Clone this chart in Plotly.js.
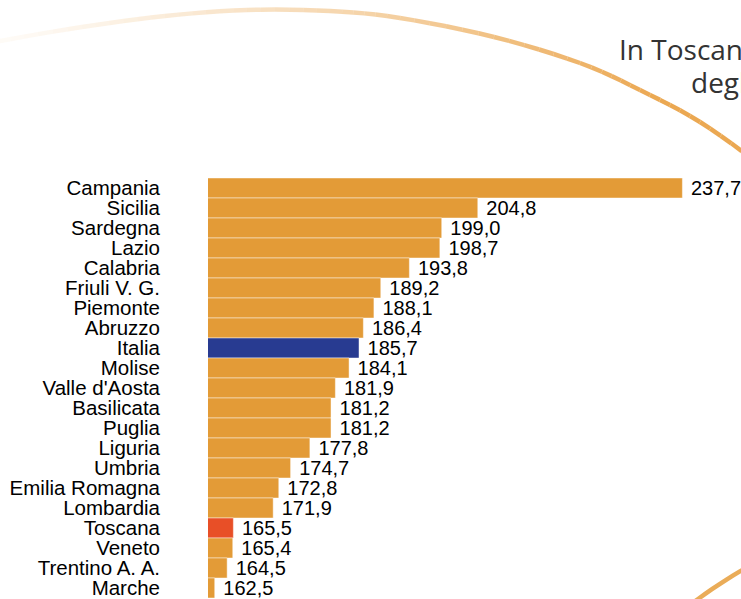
<!DOCTYPE html>
<html>
<head>
<meta charset="utf-8">
<script src="https://cdn.plot.ly/plotly-3.0.1.min.js"></script>
<style>
html,body{margin:0;padding:0;background:#fff;overflow:hidden;}
#chart{width:741px;height:599px;}
</style>
</head>
<body>
<div id="chart"></div>
<script>
// ---- data ----
const categories = ['Campania','Sicilia','Sardegna','Lazio','Calabria','Friuli V. G.','Piemonte','Abruzzo','Italia','Molise',"Valle d'Aosta",'Basilicata','Puglia','Liguria','Umbria','Emilia Romagna','Lombardia','Toscana','Veneto','Trentino A. A.','Marche'];
const values = [237.7,204.8,199.0,198.7,193.8,189.2,188.1,186.4,185.7,184.1,181.9,181.2,181.2,177.8,174.7,172.8,171.9,165.5,165.4,164.5,162.5];
const titleLines = ['In Toscana il tasso di ospedalizzazione è tra i più bassi', 'degli ultimi anni'];

// ---- styling ----
const ORANGE = '#E39B37', BLUE = '#283B91', RED = '#E84F27';
const colors = categories.map(c => c === 'Italia' ? BLUE : (c === 'Toscana' ? RED : ORANGE));
const FONT = 'Liberation Sans, Arial, sans-serif';

const W = 741, H = 599, ML = 208, MT = 178, MB = 1;
const PW = W - ML, PH = H - MT - MB;
const X = px => (px - ML) / PW;
const Y = py => (H - MB - py) / PH;

// decorative arcs (pixel guide points)
const arcPts = [[-40,50],[0,41],[82,27],[165,16],[247,10],[330,11],[400,18],[494,37],[580,63],[640,90],[700,122],[760,165],[800,200]];
function bez(p0,c1,c2,p1,t){const u=1-t;return [u*u*u*p0[0]+3*u*u*t*c1[0]+3*u*t*t*c2[0]+t*t*t*p1[0],u*u*u*p0[1]+3*u*u*t*c1[1]+3*u*t*t*c2[1]+t*t*t*p1[1]];}
const samples = [];
for (let i = 0; i < arcPts.length - 1; i++) {
  const p0 = arcPts[Math.max(i-1,0)], p1 = arcPts[i], p2 = arcPts[i+1], p3 = arcPts[Math.min(i+2,arcPts.length-1)];
  const c1 = [p1[0]+(p2[0]-p0[0])/6, p1[1]+(p2[1]-p0[1])/6];
  const c2 = [p2[0]-(p3[0]-p1[0])/6, p2[1]-(p3[1]-p1[1])/6];
  for (let k = 0; k < 6; k++) samples.push(bez(p1,c1,c2,p2,k/6));
}
samples.push(arcPts[arcPts.length-1]);
const shapes = [];
for (let i = 0; i < samples.length - 1; i++) {
  const a = samples[i], b = samples[i+1];
  const mx = Math.max(0,(a[0]+b[0])/2);
  const al = Math.min(1, 0.05 + 0.95*Math.pow(Math.min(mx/660,1),1.25));
  shapes.push({type:'path', layer:'below', xref:'paper', yref:'paper',
    path:`M${X(a[0])},${Y(a[1])} L${X(b[0])},${Y(b[1])}`,
    line:{color:`rgba(235,168,82,${al.toFixed(3)})`, width:4.5}});
}
// lower right arc
const cx = 994, cy = 1002, R = 500;
const t1 = Math.atan2(-380,-330), t2 = Math.atan2(-470,-190);
let pth = '';
for (let k = 0; k <= 20; k++) {
  const t = t1 + (t2 - t1) * k / 20;
  const px = cx + R*Math.cos(t), py = cy + R*Math.sin(t);
  pth += (k ? ' L' : 'M') + X(px) + ',' + Y(py);
}
shapes.push({type:'path', layer:'below', xref:'paper', yref:'paper', path:pth, line:{color:'rgb(234,172,88)', width:4.5}});

const trace = {
  type:'bar', orientation:'h', x: values, y: categories,
  marker:{color: colors, line:{color:'rgba(255,255,255,0.45)', width:1}},
  texttemplate:'\u00a0%{x:.1f}', textposition:'outside', cliponaxis:false, constraintext:'none',
  textfont:{family:FONT, size:20, color:'#000'},
  hoverinfo:'none'
};

const layout = {
  width:W, height:H,
  margin:{l:ML, r:0, t:MT, b:MB, pad:0},
  paper_bgcolor:'#fff', plot_bgcolor:'rgba(0,0,0,0)',
  bargap:0, separators:',.', showlegend:false,
  font:{family:FONT, color:'#000'},
  xaxis:{range:[161.42, 161.42 + PW/6.219], visible:false, showgrid:false, zeroline:false, fixedrange:true},
  yaxis:{type:'category', autorange:'reversed', showgrid:false, zeroline:false, showline:false, ticks:'',
         tickmode:'array', tickvals:categories, ticktext:categories,
         ticklabelstandoff:47, tickfont:{family:FONT, size:20.5, color:'#000'}, fixedrange:true},
  shapes: shapes,
  annotations:[
    {xref:'paper', yref:'paper', x:X(617), y:Y(49), xanchor:'left', yanchor:'middle', showarrow:false,
     text:titleLines[0], font:{family:'Open Sans, sans-serif', size:28, color:'#333'}},
    {xref:'paper', yref:'paper', x:X(689), y:Y(82), xanchor:'left', yanchor:'middle', showarrow:false,
     text:titleLines[1], font:{family:'Open Sans, sans-serif', size:28, color:'#333'}}
  ]
};

Plotly.newPlot('chart', [trace], layout, {displayModeBar:false, staticPlot:true});
</script>
</body>
</html>
